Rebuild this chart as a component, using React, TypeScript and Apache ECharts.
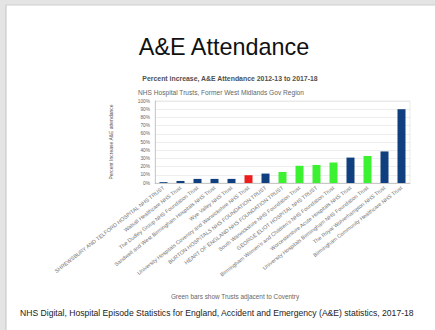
import React, { useEffect, useRef } from "react";
import * as echarts from "echarts";

const trusts = [
  "SHREWSBURY AND TELFORD HOSPITAL NHS TRUST",
  "Walsall Healthcare NHS Trust",
  "The Dudley Group NHS Foundation Trust",
  "Sandwell and West Birmingham Hospitals NHS Trust",
  "Wye Valley NHS Trust",
  "University Hospitals Coventry and Warwickshire NHS Trust",
  "BURTON HOSPITALS NHS FOUNDATION TRUST",
  "HEART OF ENGLAND NHS FOUNDATION TRUST",
  "South Warwickshire NHS Foundation Trust",
  "GEORGE ELIOT HOSPITAL NHS TRUST",
  "Birmingham Women's and Children's NHS Foundation Trust",
  "Worcestershire Acute Hospitals NHS Trust",
  "University Hospitals Birmingham NHS Foundation Trust",
  "The Royal Wolverhampton NHS Trust",
  "Birmingham Community Healthcare NHS Trust",
];

// Percent increase in A&E attendance, 2012-13 to 2017-18
const pctIncrease = [1, 2.5, 5, 5, 5, 9.5, 11.5, 13.5, 21, 22, 25, 31, 33, 38.5, 90];

// coventry = the Coventry trust itself, adjacent = neighbouring trusts, other = rest of region
const trustGroup = [
  "other", "other", "other", "other", "other",
  "coventry", "other",
  "adjacent", "adjacent", "adjacent", "adjacent",
  "other", "adjacent", "other", "other",
];

const yTicks = [0, 10, 20, 30, 40, 50, 60, 70, 80, 90, 100];

const groupColors: Record<string, string> = {
  other: "#0f3f7e",
  coventry: "#ee1c1c",
  adjacent: "#3cf032",
};

const FONT = "'Liberation Sans', Arial, sans-serif";

export default function App() {
  const ref = useRef<HTMLDivElement>(null);

  useEffect(() => {
    document.body.style.margin = "0";
    const chart = echarts.init(ref.current!, null, { renderer: "svg" });
    chart.setOption({
      animation: false,
      backgroundColor: "#ffffff",
      textStyle: { fontFamily: FONT },
      grid: {
        left: 155,
        right: 25,
        top: 101,
        bottom: 147,
        show: true,
        borderColor: "#dddddd",
        borderWidth: 0.6,
      },
      xAxis: {
        type: "category",
        data: trusts,
        axisLine: { lineStyle: { color: "#b0b0b0", width: 0.6 } },
        axisTick: { show: false },
        axisLabel: {
          interval: 0,
          rotate: 38,
          fontSize: 5.4,
          color: "#707070",
          margin: 4,
          fontFamily: FONT,
        },
      },
      yAxis: {
        type: "value",
        min: 0,
        max: 100,
        interval: 10,
        axisLine: { show: true, lineStyle: { color: "#b0b0b0", width: 0.6 } },
        axisTick: { show: false },
        splitLine: { lineStyle: { color: "#e2e2e2", width: 0.6 } },
        axisLabel: {
          fontSize: 4.8,
          color: "#666666",
          margin: 5,
          fontFamily: FONT,
          formatter: (v: number) => (yTicks.includes(v) ? `${v}%` : ""),
        },
      },
      series: [
        {
          type: "bar",
          barWidth: 8,
          data: pctIncrease.map((v, i) => ({
            value: v,
            itemStyle: { color: groupColors[trustGroup[i]] },
          })),
        },
      ],
      graphic: [
        // slide edge shading along the top and left
        { type: "rect", shape: { x: 0, y: 0, width: 435, height: 5 }, style: { fill: "#e4e4e4" } },
        { type: "rect", shape: { x: 0, y: 0, width: 6, height: 330 }, style: { fill: "#e4e4e4" } },
        { type: "line", shape: { x1: 6, y1: 5, x2: 435, y2: 5 }, style: { stroke: "#cfcfcf", lineWidth: 1 } },
        { type: "line", shape: { x1: 6, y1: 5, x2: 6, y2: 330 }, style: { stroke: "#c4c4c4", lineWidth: 1 } },
        {
          type: "text",
          x: 224,
          y: 47,
          style: {
            text: "A&E Attendance",
            font: `23.4px ${FONT}`,
            fill: "#111111",
            textAlign: "center",
            textVerticalAlign: "middle",
          },
        },
        {
          type: "text",
          x: 230,
          y: 78,
          style: {
            text: "Percent increase, A&E Attendance 2012-13 to 2017-18",
            font: `bold 6.9px ${FONT}`,
            fill: "#505050",
            textAlign: "center",
            textVerticalAlign: "middle",
          },
        },
        {
          type: "text",
          x: 221,
          y: 92,
          style: {
            text: "NHS Hospital Trusts, Former West Midlands Gov Region",
            font: `6.6px ${FONT}`,
            fill: "#666666",
            textAlign: "center",
            textVerticalAlign: "middle",
          },
        },
        {
          type: "text",
          x: 111,
          y: 142,
          rotation: Math.PI / 2,
          style: {
            text: "Percent Increase A&E attendance",
            font: `5px ${FONT}`,
            fill: "#555555",
            textAlign: "center",
            textVerticalAlign: "middle",
          },
        },
        {
          type: "text",
          x: 235,
          y: 296,
          style: {
            text: "Green bars show Trusts adjacent to Coventry",
            font: `6.4px ${FONT}`,
            fill: "#666666",
            textAlign: "center",
            textVerticalAlign: "middle",
          },
        },
        {
          type: "text",
          x: 20,
          y: 313,
          style: {
            text: "NHS Digital, Hospital Episode Statistics for England, Accident and Emergency (A&E) statistics, 2017-18",
            font: `8.6px ${FONT}`,
            fill: "#222222",
            textAlign: "left",
            textVerticalAlign: "middle",
          },
        },
      ],
    });
    return () => chart.dispose();
  }, []);

  return (
    <div
      ref={ref}
      style={{ position: "absolute", left: 0, top: 0, width: 435, height: 330 }}
    />
  );
}
